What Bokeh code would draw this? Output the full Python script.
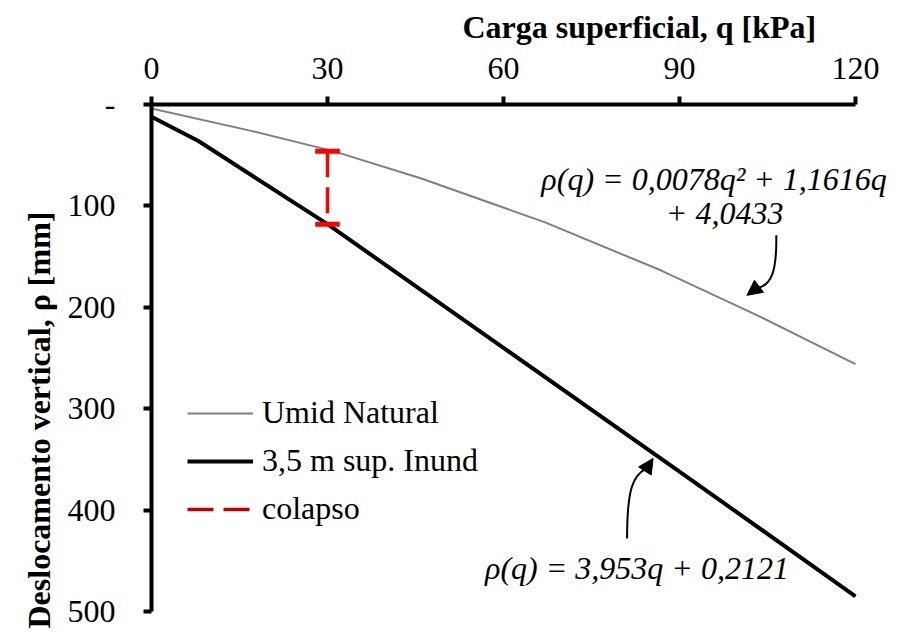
import math
from bokeh.plotting import figure
from bokeh.models import (Range1d, FixedTicker, Label, Legend, LegendItem,
                          Arrow, NormalHead, Title)
from bokeh.embed import file_html
from bokeh.resources import INLINE

# ---- data ----
q_natural = [0, 17, 31, 46, 67, 87, 104, 120]
rho_natural = [4, 26, 46, 73, 116, 164, 210, 256]

q_inund = [0, 8, 30, 60, 90, 120]
rho_inund = [12, 36, 118, 240, 362, 485]

q_colapso = [30, 30]
rho_colapso = [46, 118]

x_ticks = [0, 30, 60, 90, 120]
y_ticks = [0, 100, 200, 300, 400, 500]

FONT = "Liberation Serif"
FS = "32px"

p = figure(width=891, height=632, output_backend="svg", toolbar_location=None,
           x_axis_location="above", x_range=Range1d(0, 126.14), y_range=Range1d(500, 0),
           min_border_left=151, min_border_right=0, min_border_top=104, min_border_bottom=21)
p.outline_line_color = None
p.xgrid.visible = False
p.ygrid.visible = False
p.background_fill_color = "white"

for ax in (p.xaxis[0], p.yaxis[0]):
    ax.axis_line_width = 4
    ax.axis_line_color = "black"
    ax.major_tick_line_width = 4
    ax.major_tick_line_color = "black"
    ax.major_tick_out = 8
    ax.major_tick_in = 0
    ax.minor_tick_line_color = None
    ax.major_label_text_font = FONT
    ax.major_label_text_font_size = FS
    ax.major_label_text_color = "black"

p.xaxis[0].ticker = FixedTicker(ticks=x_ticks)
p.xaxis[0].bounds = (0, 120)
p.yaxis[0].ticker = FixedTicker(ticks=y_ticks)
p.yaxis[0].major_label_overrides = {0: "-"}
p.xaxis[0].major_label_standoff = 18
p.yaxis[0].major_label_standoff = 28

# axis titles
p.add_layout(Title(text="Carga superficial, q [kPa]", text_font=FONT, text_font_size=FS,
                   text_font_style="bold", text_color="black", align="left", offset=303,
                   vertical_align="top", padding=8, standoff=0), "above")
p.add_layout(Title(text="Deslocamento vertical, ρ [mm]", text_font=FONT, text_font_size=FS,
                   text_font_style="bold", text_color="black", align="left", offset=-23,
                   vertical_align="top", padding=6, standoff=0), "left")

gray = p.line(q_natural, rho_natural, line_color="#808080", line_width=2)
black = p.line(q_inund, rho_inund, line_color="black", line_width=4)
p.line(q_colapso, rho_colapso, line_color="#FF0000", line_width=3.5, line_dash="26 10")
# caps of the collapse bar
for yv in rho_colapso:
    p.segment(x0=[q_colapso[0] - 2.1], x1=[q_colapso[0] + 2.1], y0=[yv], y1=[yv],
              line_color="#FF0000", line_width=5)
# legend key for the collapse bar (draws nothing in the plot)
red_key = p.line(x=[float("nan")], y=[float("nan")], line_color="#C00000",
                 line_width=3.5, line_dash="26 10")

legend = Legend(items=[LegendItem(label="Umid Natural", renderers=[gray]),
                       LegendItem(label="3,5 m sup. Inund", renderers=[black]),
                       LegendItem(label="colapso", renderers=[red_key])],
                location=(36, 84), border_line_color=None, background_fill_alpha=0,
                padding=0, margin=0, glyph_width=66, glyph_height=36, label_height=36,
                spacing=11, label_standoff=9, label_text_font=FONT,
                label_text_font_size=FS, label_text_color="black")
p.add_layout(legend)

# equations
def lab(x, y, text, size=FS, style="italic", align="center"):
    p.add_layout(Label(x=x, y=y, text=text, text_font=FONT, text_font_size=size,
                       text_font_style=style, text_align=align, text_baseline="middle",
                       text_color="black"))

lab(95.9, 73, "ρ(q) = 0,0078q² + 1,1616q")
lab(97.7, 107.4, "+ 4,0433")
lab(82.75, 457, "ρ(q) = 3,953q + 0,2121")

# curved arrows
p.bezier(x0=[106.5], y0=[129], x1=[103.3], y1=[181], cx0=[106.6], cy0=[166], cx1=[105.6], cy1=[178],
         line_color="black", line_width=2)
p.add_layout(Arrow(end=NormalHead(size=15, fill_color="black", line_color="black"),
                   x_start=103.5, y_start=179.5, x_end=101.5, y_end=188.2, line_width=0,
                   line_alpha=0))
p.bezier(x0=[81.07], y0=[428], x1=[84.3], y1=[359], cx0=[81.07], cy0=[380], cx1=[82.0], cy1=[366],
         line_color="black", line_width=2)
p.add_layout(Arrow(end=NormalHead(size=15, fill_color="black", line_color="black"),
                   x_start=84.2, y_start=360.6, x_end=85.5, y_end=349, line_width=0,
                   line_alpha=0))

open("out.html", "w").write(file_html(p, INLINE))
